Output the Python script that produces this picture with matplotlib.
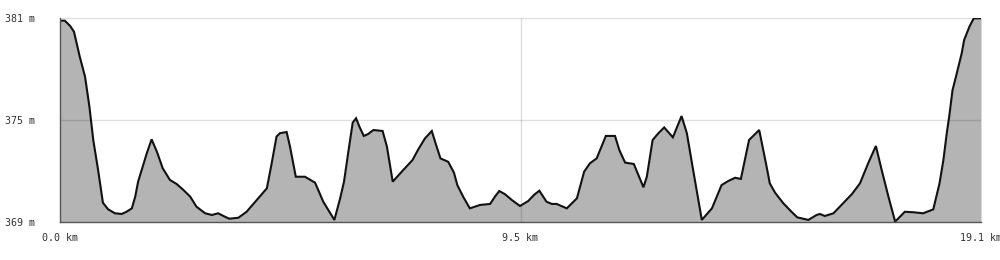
import matplotlib
matplotlib.use("Agg")
import matplotlib.pyplot as plt

dist_km = [0.00, 0.10, 0.21, 0.29, 0.41, 0.52, 0.61, 0.69, 0.79, 0.89,
           1.00, 1.14, 1.28, 1.38, 1.49, 1.56, 1.62, 1.80, 1.90, 2.01,
           2.13, 2.28, 2.42, 2.56, 2.70, 2.83, 3.01, 3.15, 3.28, 3.39,
           3.51, 3.70, 3.87, 4.08, 4.29, 4.39, 4.49, 4.56, 4.70, 4.77,
           4.89, 5.08, 5.29, 5.46, 5.69, 5.81, 5.89, 5.98, 6.07, 6.14,
           6.21, 6.30, 6.39, 6.50, 6.69, 6.78, 6.90, 7.12, 7.31, 7.43,
           7.57, 7.71, 7.80, 7.89, 8.05, 8.17, 8.24, 8.36, 8.50, 8.71,
           8.92, 9.02, 9.11, 9.23, 9.37, 9.54, 9.71, 9.83, 9.94, 10.09,
           10.20, 10.30, 10.51, 10.72, 10.87, 10.99, 11.13, 11.32, 11.51, 11.60,
           11.72, 11.90, 12.10, 12.17, 12.29, 12.41, 12.53, 12.71, 12.89, 13.00,
           13.13, 13.31, 13.52, 13.72, 13.86, 14.00, 14.12, 14.29, 14.50, 14.64,
           14.72, 14.83, 15.00, 15.17, 15.29, 15.52, 15.69, 15.76, 15.86, 16.04,
           16.24, 16.42, 16.59, 16.76, 16.92, 17.04, 17.18, 17.32, 17.52, 17.70,
           17.90, 18.11, 18.24, 18.32, 18.39, 18.44, 18.51, 18.58, 18.70, 18.75,
           18.86, 18.95, 19.10]
elev_m = [380.86, 380.86, 380.55, 380.21, 378.74, 377.56, 375.80, 373.84, 372.08, 370.15,
          369.76, 369.53, 369.49, 369.62, 369.82, 370.51, 371.39, 373.06, 373.88, 373.15,
          372.18, 371.49, 371.25, 370.90, 370.51, 369.92, 369.53, 369.43, 369.53, 369.37,
          369.21, 369.27, 369.62, 370.31, 371.00, 372.47, 374.04, 374.24, 374.31, 373.45,
          371.68, 371.68, 371.33, 370.21, 369.14, 370.41, 371.39, 373.15, 374.86, 375.12,
          374.62, 374.08, 374.19, 374.43, 374.37, 373.45, 371.39, 372.08, 372.66, 373.29,
          373.94, 374.37, 373.55, 372.76, 372.56, 371.92, 371.19, 370.51, 369.82, 370.02,
          370.08, 370.51, 370.84, 370.65, 370.31, 369.96, 370.25, 370.61, 370.86, 370.21,
          370.08, 370.08, 369.82, 370.41, 371.98, 372.47, 372.76, 374.08, 374.08, 373.25,
          372.51, 372.43, 371.06, 371.68, 373.84, 374.24, 374.58, 374.00, 375.25, 374.24,
          372.08, 369.14, 369.82, 371.19, 371.43, 371.62, 371.55, 373.84, 374.43, 372.47,
          371.29, 370.74, 370.12, 369.62, 369.29, 369.14, 369.43, 369.49, 369.37, 369.53,
          370.12, 370.65, 371.29, 372.47, 373.49, 372.08, 370.51, 369.04, 369.62, 369.59,
          369.53, 369.76, 371.29, 372.66, 374.24, 375.21, 376.78, 377.56, 378.94, 379.72,
          380.51, 381.00, 381.00]

y_ticks = [369, 375, 381]
y_labels = ["369 m", "375 m", "381 m"]
x_ticks = [0.0, 9.55, 19.1]
x_labels = ["0.0 km", "9.5 km", "19.1 km"]

fig = plt.figure(figsize=(10, 2.6), dpi=100)
ax = fig.add_axes([0.06, 1 - 222.3 / 260, 0.921, (222.3 - 18.3) / 260])

ax.fill_between(dist_km, elev_m, 369, color="#b4b4b4", linewidth=0, zorder=1)
ax.plot(dist_km, elev_m, color="#111111", linewidth=1.5, zorder=3, solid_joinstyle="miter")

for yv in [375, 381]:
    ax.axhline(yv, color="black", alpha=0.13, linewidth=1, zorder=2)
ax.axvline(x_ticks[1], color="black", alpha=0.13, linewidth=1, zorder=2)

ax.set_xlim(0, 19.1)
ax.set_ylim(369, 381)
ax.set_xticks(x_ticks)
ax.set_xticklabels(x_labels)
ax.set_yticks(y_ticks)
ax.set_yticklabels(y_labels)
ax.tick_params(axis="both", length=0, labelsize=7.2, labelcolor="#333333")
ax.tick_params(axis="y", pad=18)
ax.tick_params(axis="x", pad=8)
for lab in ax.get_xticklabels() + ax.get_yticklabels():
    lab.set_family("DejaVu Sans Mono")

for s in ["top", "right"]:
    ax.spines[s].set_visible(False)
for s in ["left", "bottom"]:
    ax.spines[s].set_color("#555555")
    ax.spines[s].set_linewidth(1.0)
    ax.spines[s].set_zorder(4)

fig.savefig("out.png", dpi=100)
